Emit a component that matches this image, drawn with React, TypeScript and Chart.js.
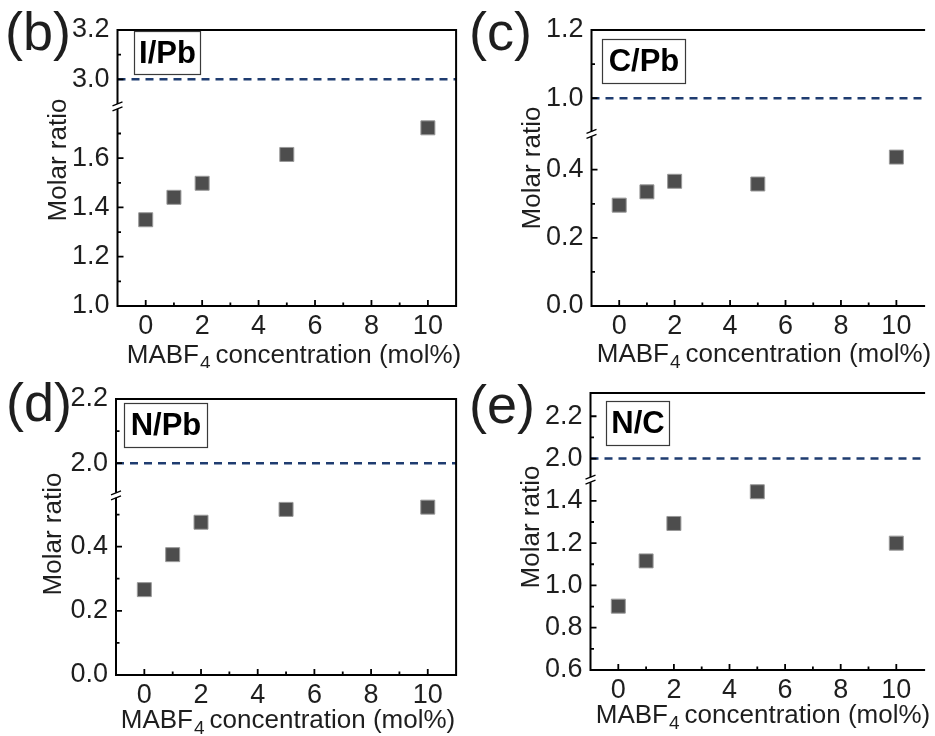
import React, { useEffect, useRef } from "react";
import { Chart, registerables } from "chart.js";

Chart.register(...registerables);

// ---------------- data ----------------
const concentrationMolPercent = [0, 1, 2, 5, 10];
const iodineToLead = [1.35, 1.441, 1.498, 1.615, 1.723];
const carbonToLead = [0.296, 0.335, 0.366, 0.358, 0.437];
const nitrogenToLead = [0.266, 0.375, 0.476, 0.516, 0.523];
const nitrogenToCarbon = [0.902, 1.116, 1.293, 1.443, 1.2];
const stoichiometricRatios = [3.0, 1.0, 2.0, 2.0];
const ratioNames = ["I/Pb", "C/Pb", "N/Pb", "N/C"];
const panelLetters = ["(b)", "(c)", "(d)", "(e)"];
const xMajorTicks = [0, 2, 4, 6, 8, 10];
const xMinorTicks = [1, 3, 5, 7, 9];
const yTicksB = [1.0, 1.2, 1.4, 1.6, 3.0, 3.2];
const yTicksC = [0.0, 0.2, 0.4, 1.0, 1.2];
const yTicksD = [0.0, 0.2, 0.4, 2.0, 2.2];
const yTicksE = [0.6, 0.8, 1.0, 1.2, 1.4, 2.0, 2.2];
const yMinorB = [1.1, 1.3, 1.5, 1.7, 3.1];
const yMinorC = [0.1, 0.3, 1.1];
const yMinorD = [0.1, 0.3, 0.5, 2.1];
const yMinorE = [0.7, 0.9, 1.1, 1.3, 2.1];
// broken axis ranges: [lower segment], [upper segment]
const yLowerB = [1.0, 1.81];
const yUpperB = [2.89, 3.2];
const yLowerC = [0.0, 0.505];
const yUpperC = [0.895, 1.2];
const yLowerD = [0.0, 0.56];
const yUpperD = [1.9, 2.2];
const yLowerE = [0.6, 1.5];
const yUpperE = [1.9, 2.31];
const xTitleMain = "MABF";
const xTitleSub = "4";
const xTitleRest = "concentration (mol%)";
const yTitle = "Molar ratio";

// ---------------- styles / layout ----------------
const FONT = '"Liberation Sans", Arial, Helvetica, sans-serif';
const TEXT = "#1e1e1e";
const POINT_FILL = "#4d4d4d";
const POINT_EDGE = "#9a9a9a";
const DASH_COLOR = "#1f3c70";

type Layout = {
  canvas: { left: number; top: number; w: number; h: number };
  area: { l: number; t: number; r: number; b: number };
  drawRight: boolean;
  letter: { x: number; y: number };
  box: { x: number; y: number; w: number; h: number };
  yTitle: { x: number; y: number };
  xTitle: { cx: number; y: number };
};

const layouts: Layout[] = [
  {
    canvas: { left: 0, top: 0, w: 467, h: 368 },
    area: { l: 117.5, t: 30, r: 462.3, b: 306 },
    drawRight: true,
    letter: { x: 5, y: 50 },
    box: { x: 134, y: 31, w: 67, h: 44 },
    yTitle: { x: 59, y: 160 },
    xTitle: { cx: 294, y: 363 },
  },
  {
    canvas: { left: 467, top: 0, w: 468, h: 368 },
    area: { l: 591.5, t: 30, r: 935, b: 306 },
    drawRight: false,
    letter: { x: 469, y: 50 },
    box: { x: 602, y: 39, w: 84, h: 45 },
    yTitle: { x: 533, y: 168 },
    xTitle: { cx: 764, y: 362 },
  },
  {
    canvas: { left: 0, top: 368, w: 467, h: 368 },
    area: { l: 116, t: 399, r: 461.5, b: 675 },
    drawRight: true,
    letter: { x: 6, y: 421 },
    box: { x: 124, y: 403, w: 84, h: 45 },
    yTitle: { x: 54, y: 534 },
    xTitle: { cx: 288, y: 728 },
  },
  {
    canvas: { left: 467, top: 368, w: 468, h: 368 },
    area: { l: 590.5, t: 393, r: 935, b: 670 },
    drawRight: false,
    letter: { x: 469, y: 423 },
    box: { x: 606, y: 401, w: 64, h: 45 },
    yTitle: { x: 532, y: 527 },
    xTitle: { cx: 763, y: 723 },
  },
];

type PanelData = {
  values: number[];
  reference: number;
  name: string;
  letter: string;
  ticks: number[];
  minor: number[];
  lower: number[];
  upper: number[];
};

const panelData: PanelData[] = [
  { values: iodineToLead, reference: stoichiometricRatios[0], name: ratioNames[0], letter: panelLetters[0], ticks: yTicksB, minor: yMinorB, lower: yLowerB, upper: yUpperB },
  { values: carbonToLead, reference: stoichiometricRatios[1], name: ratioNames[1], letter: panelLetters[1], ticks: yTicksC, minor: yMinorC, lower: yLowerC, upper: yUpperC },
  { values: nitrogenToLead, reference: stoichiometricRatios[2], name: ratioNames[2], letter: panelLetters[2], ticks: yTicksD, minor: yMinorD, lower: yLowerD, upper: yUpperD },
  { values: nitrogenToCarbon, reference: stoichiometricRatios[3], name: ratioNames[3], letter: panelLetters[3], ticks: yTicksE, minor: yMinorE, lower: yLowerE, upper: yUpperE },
];

function buildConfig(d: PanelData, L: Layout): any {
  const gap = d.upper[0] - d.lower[1];
  const tf = (v: number) => (v <= d.lower[1] ? v : v - gap);
  const ox = L.canvas.left;
  const oy = L.canvas.top;
  const areaL = L.area.l - ox;
  const areaT = L.area.t - oy;
  const areaR = L.area.r - ox;
  const areaB = L.area.b - oy;

  const overlay = {
    id: "overlay",
    afterDraw(chart: any) {
      const ctx = chart.ctx as CanvasRenderingContext2D;
      const ca = chart.chartArea;
      const xs = chart.scales.x;
      const ys = chart.scales.y;
      ctx.save();
      ctx.strokeStyle = "#000";
      ctx.lineCap = "butt";

      // break position
      const breakY = ys.getPixelForValue(d.lower[1]);
      const half = 2.5;

      // frame
      ctx.lineWidth = 2;
      ctx.beginPath();
      ctx.moveTo(ca.left - 1, ca.top);
      ctx.lineTo(ca.right + 1, ca.top);
      ctx.moveTo(ca.left - 1, ca.bottom);
      ctx.lineTo(ca.right + 1, ca.bottom);
      if (L.drawRight) {
        ctx.moveTo(ca.right, ca.top);
        ctx.lineTo(ca.right, ca.bottom);
      }
      ctx.moveTo(ca.left, ca.bottom);
      ctx.lineTo(ca.left, breakY + half);
      ctx.moveTo(ca.left, breakY - half);
      ctx.lineTo(ca.left, ca.top);
      ctx.stroke();

      // break marks
      ctx.lineWidth = 1.3;
      ctx.beginPath();
      ctx.moveTo(ca.left - 5, breakY - half + 2);
      ctx.lineTo(ca.left + 5, breakY - half - 2);
      ctx.moveTo(ca.left - 5, breakY + half + 2);
      ctx.lineTo(ca.left + 5, breakY + half - 2);
      ctx.stroke();

      // inward ticks
      ctx.lineWidth = 1.8;
      ctx.beginPath();
      xMajorTicks.forEach((v) => {
        const px = xs.getPixelForValue(v);
        ctx.moveTo(px, ca.bottom);
        ctx.lineTo(px, ca.bottom - 6);
      });
      xMinorTicks.forEach((v) => {
        const px = xs.getPixelForValue(v);
        ctx.moveTo(px, ca.bottom);
        ctx.lineTo(px, ca.bottom - 3.5);
      });
      d.ticks.forEach((v) => {
        const py = ys.getPixelForValue(tf(v));
        if (Math.abs(py - ca.top) < 1.5 || Math.abs(py - ca.bottom) < 1.5) return;
        ctx.moveTo(ca.left, py);
        ctx.lineTo(ca.left + 6, py);
      });
      d.minor.forEach((v) => {
        const py = ys.getPixelForValue(tf(v));
        ctx.moveTo(ca.left, py);
        ctx.lineTo(ca.left + 3.5, py);
      });
      ctx.stroke();

      // label box
      const bx = L.box.x - ox;
      const by = L.box.y - oy;
      ctx.fillStyle = "#fff";
      ctx.fillRect(bx, by, L.box.w, L.box.h);
      ctx.lineWidth = 1.2;
      ctx.strokeStyle = "#3a3a3a";
      ctx.strokeRect(bx + 0.5, by + 0.5, L.box.w - 1, L.box.h - 1);
      ctx.fillStyle = "#000";
      ctx.font = `bold 31px ${FONT}`;
      ctx.textAlign = "center";
      ctx.textBaseline = "middle";
      ctx.fillText(d.name, bx + L.box.w / 2, by + L.box.h / 2 + 1);

      // panel letter
      ctx.font = `54px ${FONT}`;
      ctx.textAlign = "left";
      ctx.textBaseline = "alphabetic";
      ctx.fillStyle = TEXT;
      ctx.fillText(d.letter, L.letter.x - ox, L.letter.y - oy);

      // y title
      ctx.save();
      ctx.translate(L.yTitle.x - ox, L.yTitle.y - oy);
      ctx.rotate(-Math.PI / 2);
      ctx.font = `26px ${FONT}`;
      ctx.textAlign = "center";
      ctx.textBaseline = "middle";
      ctx.fillText(yTitle, 0, 0);
      ctx.restore();

      // x title with subscript
      const mainFont = `26px ${FONT}`;
      const subFont = `19px ${FONT}`;
      ctx.font = mainFont;
      const wMain = ctx.measureText(xTitleMain).width;
      const wRest = ctx.measureText(xTitleRest).width;
      ctx.font = subFont;
      const wSub = ctx.measureText(xTitleSub).width;
      const spacing = 5;
      const total = wMain + 1 + wSub + spacing + wRest;
      const x0 = L.xTitle.cx - ox - total / 2;
      const y0 = L.xTitle.y - oy;
      ctx.textAlign = "left";
      ctx.textBaseline = "alphabetic";
      ctx.font = mainFont;
      ctx.fillText(xTitleMain, x0, y0);
      ctx.font = subFont;
      ctx.fillText(xTitleSub, x0 + wMain + 1, y0 + 6);
      ctx.font = mainFont;
      ctx.fillText(xTitleRest, x0 + wMain + 1 + wSub + spacing, y0);

      ctx.restore();
    },
  };

  return {
    type: "scatter",
    data: {
      datasets: [
        {
          type: "line",
          data: [
            { x: -1, y: tf(d.reference) },
            { x: 11, y: tf(d.reference) },
          ],
          borderColor: DASH_COLOR,
          borderWidth: 2.5,
          borderDash: [8, 6],
          pointRadius: 0,
          fill: false,
          order: 2,
        },
        {
          type: "scatter",
          data: concentrationMolPercent.map((x, i) => ({ x, y: tf(d.values[i]) })),
          pointStyle: "rect",
          pointRadius: 9.9,
          backgroundColor: POINT_FILL,
          borderColor: POINT_EDGE,
          borderWidth: 1,
          order: 1,
        },
      ],
    },
    options: {
      responsive: false,
      animation: false,
      devicePixelRatio: 1,
      events: [],
      layout: {
        padding: { left: 0, top: areaT, right: Math.max(0, L.canvas.w - areaR), bottom: 0 },
      },
      plugins: { legend: { display: false }, tooltip: { enabled: false }, title: { display: false } },
      scales: {
        x: {
          type: "linear",
          min: -1,
          max: 11,
          grid: { display: false, drawTicks: false },
          border: { display: false },
          afterBuildTicks: (s: any) => {
            s.ticks = xMajorTicks.map((v) => ({ value: v }));
          },
          afterFit: (s: any) => {
            s.height = L.canvas.h - areaB;
          },
          ticks: {
            autoSkip: false,
            maxRotation: 0,
            padding: 4,
            color: TEXT,
            font: { family: FONT, size: 27 },
            callback: (v: any) => String(v),
          },
        },
        y: {
          type: "linear",
          min: d.lower[0],
          max: tf(d.upper[1]),
          grid: { display: false, drawTicks: false },
          border: { display: false },
          afterBuildTicks: (s: any) => {
            s.ticks = d.ticks.map((v) => ({ value: tf(v) }));
          },
          afterFit: (s: any) => {
            s.width = areaL;
          },
          ticks: {
            autoSkip: false,
            padding: 8,
            color: TEXT,
            font: { family: FONT, size: 27 },
            callback: (_v: any, idx: number) => d.ticks[idx].toFixed(1),
          },
        },
      },
    },
    plugins: [overlay],
  };
}

function Panel({ index }: { index: number }) {
  const ref = useRef<HTMLCanvasElement | null>(null);
  const L = layouts[index];
  useEffect(() => {
    if (!ref.current) return;
    const chart = new Chart(ref.current, buildConfig(panelData[index], L));
    return () => chart.destroy();
  }, [index]);
  return (
    <canvas
      ref={ref}
      width={L.canvas.w}
      height={L.canvas.h}
      style={{ position: "absolute", left: L.canvas.left, top: L.canvas.top, width: L.canvas.w, height: L.canvas.h }}
    />
  );
}

export default function App() {
  return (
    <div style={{ position: "absolute", left: 0, top: 0, width: 935, height: 736, background: "#fff", overflow: "hidden" }}>
      {[0, 1, 2, 3].map((i) => (
        <Panel key={i} index={i} />
      ))}
    </div>
  );
}
